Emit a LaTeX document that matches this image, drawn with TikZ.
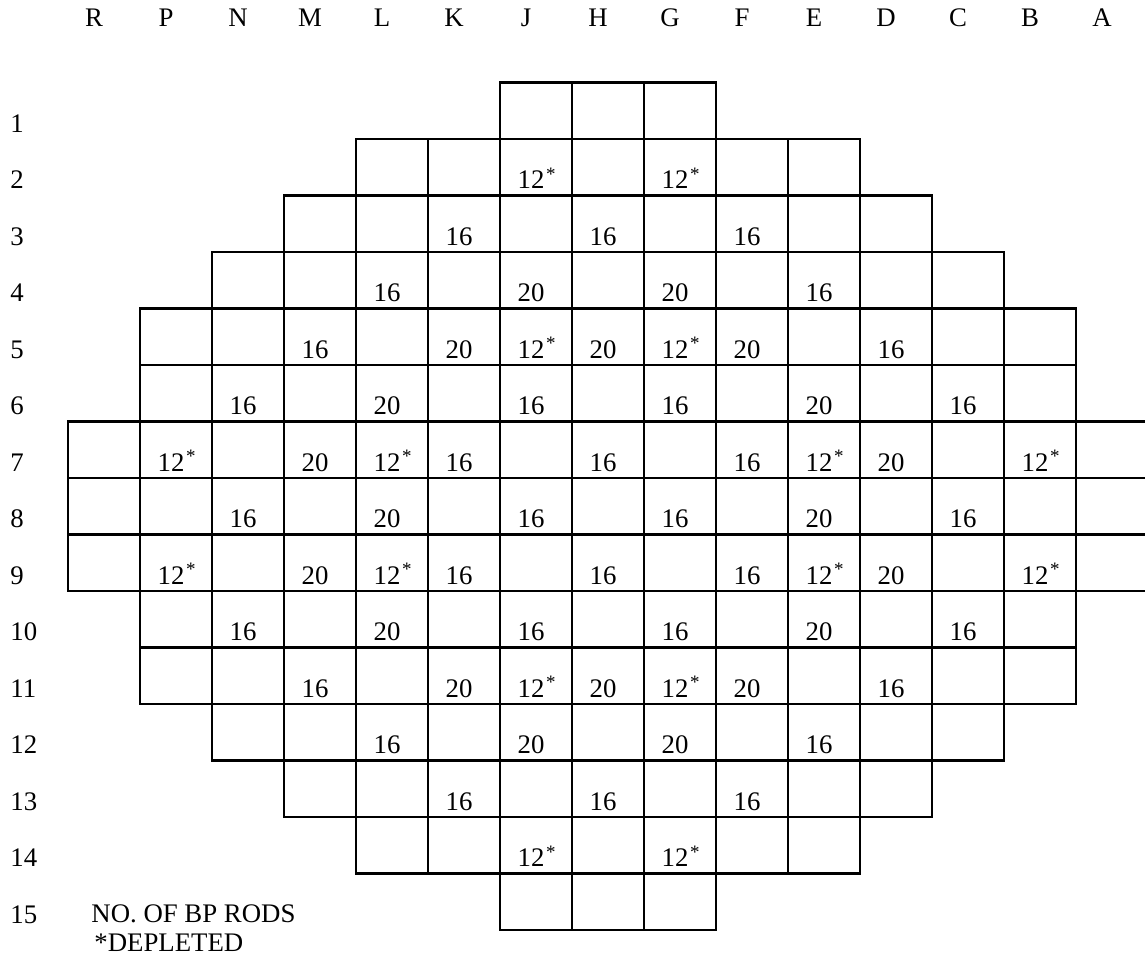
\documentclass[tikz,border=0pt]{standalone}
\usepackage{fontspec}
\setmainfont{Liberation Serif}
\newcommand\dep{12\rlap{\hspace{0.8pt}\raisebox{4.2pt}{\fontsize{9.5pt}{9.5pt}\selectfont *}}}
\begin{document}
\begin{tikzpicture}[x=0.5pt,y=-0.5pt,
  cell/.style={draw=black,line width=1.25pt},
  txt/.style={inner sep=0pt,font=\fontsize{13.4pt}{15pt}\selectfont},
  num/.style={txt,anchor=base},
  rowlab/.style={txt,anchor=base west},
  collab/.style={txt,anchor=base}]
\useasboundingbox (0,0) rectangle (1145,963);
% grid cells: row / first column / last column (R=0 ... A=14)
\foreach \r/\a/\b in {1/6/8,2/4/10,3/3/11,4/2/12,5/1/13,6/1/13,7/0/14,8/0/14,9/0/14,10/1/13,11/1/13,12/2/12,13/3/11,14/4/10,15/6/8}{
  \foreach \c in {\a,...,\b}{
    \draw[cell] ({68+72*\c},{82.7+56.5*(\r-1)}) rectangle ({140+72*\c},{82.7+56.5*\r});
  }
}
% column labels
\foreach \l [count=\k from 0] in {R,P,N,M,L,K,J,H,G,F,E,D,C,B,A}{
  \node[collab] (col-\l) at ({94+72*\k},27) {\l};
}
% row labels
\foreach \r in {1,...,15}{
  \node[rowlab] (row-\r) at (10,{82.7+56.5*\r-7}) {\r};
}
% cell values: row / column / text
\foreach \r/\c/\t in {
  2/6/\dep, 2/8/\dep,
  3/5/16, 3/7/16, 3/9/16,
  4/4/16, 4/6/20, 4/8/20, 4/10/16,
  5/3/16, 5/5/20, 5/6/\dep, 5/7/20, 5/8/\dep, 5/9/20, 5/11/16,
  6/2/16, 6/4/20, 6/6/16, 6/8/16, 6/10/20, 6/12/16,
  7/1/\dep, 7/3/20, 7/4/\dep, 7/5/16, 7/7/16, 7/9/16, 7/10/\dep, 7/11/20, 7/13/\dep,
  8/2/16, 8/4/20, 8/6/16, 8/8/16, 8/10/20, 8/12/16,
  9/1/\dep, 9/3/20, 9/4/\dep, 9/5/16, 9/7/16, 9/9/16, 9/10/\dep, 9/11/20, 9/13/\dep,
  10/2/16, 10/4/20, 10/6/16, 10/8/16, 10/10/20, 10/12/16,
  11/3/16, 11/5/20, 11/6/\dep, 11/7/20, 11/8/\dep, 11/9/20, 11/11/16,
  12/4/16, 12/6/20, 12/8/20, 12/10/16,
  13/5/16, 13/7/16, 13/9/16,
  14/6/\dep, 14/8/\dep}{
  \node[num] (v-\r-\c) at ({99+72*\c},{82.7+56.5*\r-7}) {\t};
}
% legend
\node[rowlab] (legend1) at (91,922.7) {NO. OF BP RODS};
\node[rowlab] (legend2) at (94,951.7) {*DEPLETED};
\end{tikzpicture}
\end{document}
